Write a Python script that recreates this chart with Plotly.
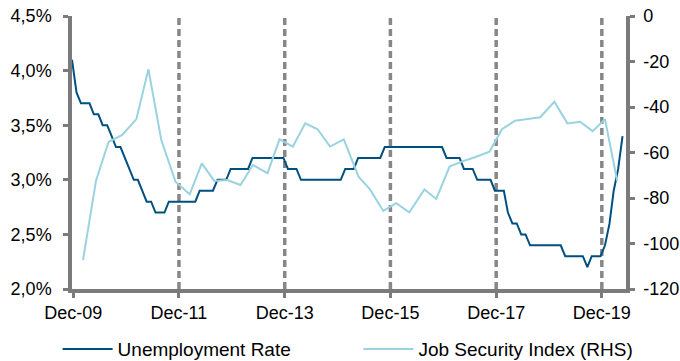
import pandas as pd
import plotly.graph_objects as go

# ---------------- data ----------------
unemp_start = "2009-12-01"
unemployment_rate = [
    4.1, 3.8, 3.7, 3.7, 3.7, 3.6, 3.6, 3.5, 3.5, 3.4, 3.3, 3.3,
    3.2, 3.1, 3.0, 3.0, 2.9, 2.8, 2.8, 2.7, 2.7, 2.7, 2.8, 2.8,
    2.8, 2.8, 2.8, 2.8, 2.8, 2.9, 2.9, 2.9, 2.9, 3.0, 3.0, 3.0,
    3.1, 3.1, 3.1, 3.1, 3.1, 3.2, 3.2, 3.2, 3.2, 3.2, 3.2, 3.2,
    3.2, 3.1, 3.1, 3.1, 3.0, 3.0, 3.0, 3.0, 3.0, 3.0, 3.0, 3.0,
    3.0, 3.0, 3.1, 3.1, 3.1, 3.2, 3.2, 3.2, 3.2, 3.2, 3.2, 3.3,
    3.3, 3.3, 3.3, 3.3, 3.3, 3.3, 3.3, 3.3, 3.3, 3.3, 3.3, 3.3,
    3.3, 3.2, 3.2, 3.2, 3.2, 3.1, 3.1, 3.1, 3.0, 3.0, 3.0, 3.0,
    2.9, 2.9, 2.9, 2.7, 2.6, 2.6, 2.5, 2.5, 2.4, 2.4, 2.4, 2.4,
    2.4, 2.4, 2.4, 2.4, 2.3, 2.3, 2.3, 2.3, 2.3, 2.2, 2.3, 2.3,
    2.3, 2.4, 2.6, 2.9, 3.1, 3.4,
]
unemp_dates = pd.date_range(unemp_start, periods=len(unemployment_rate), freq="MS")

job_dates = [
    "2010-02-15", "2010-05-16", "2010-08-11", "2010-11-13",
    "2011-02-19", "2011-05-13", "2011-08-10", "2011-11-16",
    "2012-02-22", "2012-05-16", "2012-08-10", "2012-11-07",
    "2013-02-07", "2013-05-04", "2013-08-13", "2013-11-04",
    "2014-02-04", "2014-05-01", "2014-07-25", "2014-10-19",
    "2015-01-22", "2015-05-04", "2015-07-22", "2015-10-22",
    "2016-01-19", "2016-04-19", "2016-08-01", "2016-10-22",
    "2017-01-22", "2017-04-16", "2017-07-16", "2017-10-25",
    "2018-01-19", "2018-04-19", "2018-07-16", "2018-10-10",
    "2019-01-16", "2019-04-16", "2019-07-13", "2019-10-07",
    "2020-01-01", "2020-03-25",
]
job_security = [
    -107.3, -72.4, -55.3, -52.3,
    -45.3, -23.4, -54.5, -72.8,
    -78.4, -64.8, -72.5, -72.1,
    -74.3, -65.5, -69.1, -54.2,
    -57.4, -47.2, -49.8, -57.4,
    -54.2, -70.6, -76.2, -85.7,
    -82.3, -86.3, -76.2, -80.4,
    -66.2, -64.0, -62.1, -59.6,
    -49.8, -46.0, -45.3, -44.5,
    -37.7, -47.2, -46.5, -50.6,
    -45.4, -72.4,
]

x_tick_dates = ["2009-12-10", "2011-12-10", "2013-12-10", "2015-12-10", "2017-12-10", "2019-12-10"]
x_tick_labels = ["Dec-09", "Dec-11", "Dec-13", "Dec-15", "Dec-17", "Dec-19"]
marker_dates = x_tick_dates[1:]  # dashed reference lines

left_ticks = [2.0, 2.5, 3.0, 3.5, 4.0, 4.5]
left_labels = ["2,0%", "2,5%", "3,0%", "3,5%", "4,0%", "4,5%"]
right_ticks = [-120, -100, -80, -60, -40, -20, 0]
right_labels = ["-120", "-100", "-80", "-60", "-40", "-20", "0"]

# ---------------- styles ----------------
DARK = "#00507f"
LIGHT = "#9ad3df"
AXIS = "#7b7b7b"
DASH = "#878787"
FONT = "Liberation Sans, Arial, sans-serif"

fig = go.Figure()
fig.add_trace(go.Scatter(x=unemp_dates, y=unemployment_rate, name="Unemployment Rate",
                         mode="lines", line=dict(color=DARK, width=2), yaxis="y",
                         legend="legend"))
fig.add_trace(go.Scatter(x=pd.to_datetime(job_dates), y=job_security, name="Job Security Index (RHS)",
                         mode="lines", line=dict(color=LIGHT, width=2), yaxis="y2",
                         legend="legend2"))

for d in marker_dates:
    fig.add_shape(type="line", xref="x", yref="paper", x0=d, x1=d, y0=0, y1=1,
                  line=dict(color=DASH, width=3.5, dash="7px,4px"), layer="below")

axis_common = dict(showline=True, linecolor=AXIS, linewidth=3.5, ticks="outside",
                   ticklen=5, tickwidth=3, tickcolor=AXIS, showgrid=False, zeroline=False,
                   tickfont=dict(family=FONT, size=18, color="#000"))

legend_common = dict(orientation="h", xanchor="left", y=-0.22, yanchor="middle",
                     itemwidth=50,
                     font=dict(family=FONT, size=19, color="#000"), bgcolor="rgba(0,0,0,0)")

fig.update_layout(
    width=680, height=361,
    margin=dict(l=72, r=54, t=16, b=72, autoexpand=False),
    paper_bgcolor="white", plot_bgcolor="white",
    xaxis=dict(type="date", range=["2009-12-01", "2020-05-25"], tickvals=x_tick_dates,
               ticktext=x_tick_labels, **axis_common),
    yaxis=dict(range=[2.0, 4.5], tickvals=left_ticks, ticktext=left_labels,
               ticklabelstandoff=8, **axis_common),
    yaxis2=dict(range=[-120, 0], tickvals=right_ticks, ticktext=right_labels,
                overlaying="y", side="right", ticklabelstandoff=5, **axis_common),
    showlegend=True,
    legend=dict(x=-0.026, **legend_common),
    legend2=dict(x=0.517, **legend_common),
)

fig.write_html("out.html")
